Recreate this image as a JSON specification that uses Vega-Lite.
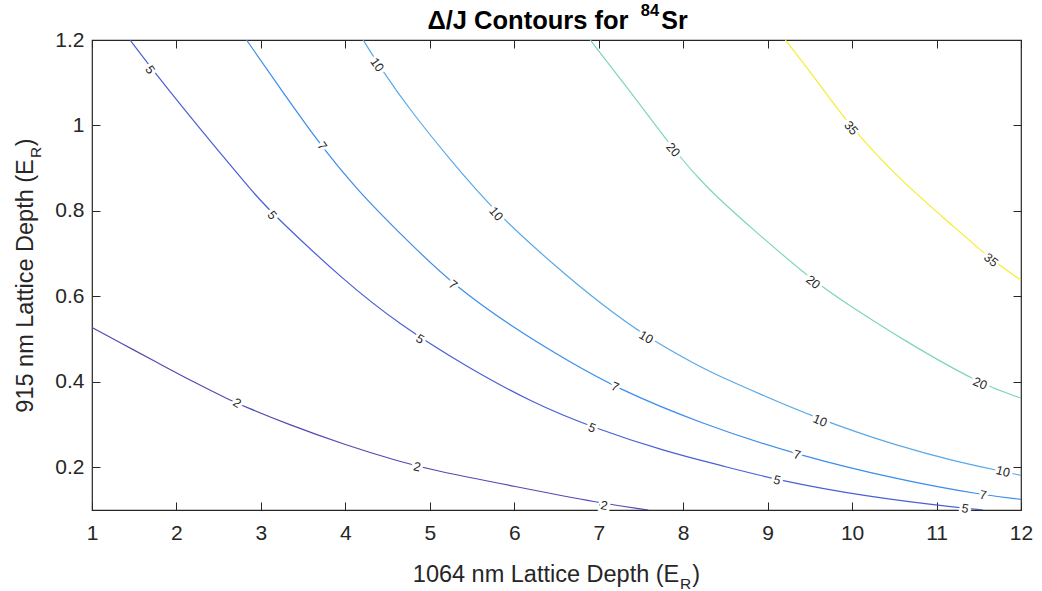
{
  "$schema": "https://vega.github.io/schema/vega-lite/v6.json",
  "width": 929,
  "height": 470,
  "autosize": "none",
  "padding": {"left": 92, "top": 40, "right": 21, "bottom": 81},
  "background": "white",
  "config": {
    "font": "Liberation Sans",
    "view": {"stroke": "#262626", "strokeWidth": 1.2},
    "axis": {"grid": false, "domain": false, "tickColor": "#262626", "tickWidth": 1, "labelColor": "#262626", "titleColor": "#262626", "labelFont": "Liberation Sans", "titleFont": "Liberation Sans"}
  },
  "datasets": {
    "lines": [
      {"level": 2, "x": 1.0, "y": 0.527}, {"level": 2, "x": 1.5, "y": 0.474}, {"level": 2, "x": 1.82, "y": 0.44}, {"level": 2, "x": 2.2, "y": 0.4}, {"level": 2, "x": 2.634, "y": 0.357}, {"level": 2, "x": 2.81, "y": 0.342}, {"level": 2, "x": 3.3, "y": 0.302}, {"level": 2, "x": 4.0, "y": 0.252}, {"level": 2, "x": 4.647, "y": 0.213}, {"level": 2, "x": 5.014, "y": 0.194}, {"level": 2, "x": 6.009, "y": 0.155}, {"level": 2, "x": 7.015, "y": 0.116}, {"level": 2, "x": 7.587, "y": 0.1},
      {"level": 5, "x": 1.45, "y": 1.2}, {"level": 5, "x": 1.7, "y": 1.135}, {"level": 5, "x": 2.16, "y": 1.021}, {"level": 5, "x": 2.555, "y": 0.927}, {"level": 5, "x": 2.95, "y": 0.833}, {"level": 5, "x": 3.2, "y": 0.782}, {"level": 5, "x": 3.976, "y": 0.638}, {"level": 5, "x": 4.647, "y": 0.533}, {"level": 5, "x": 5.437, "y": 0.435}, {"level": 5, "x": 6.226, "y": 0.35}, {"level": 5, "x": 6.9, "y": 0.295}, {"level": 5, "x": 7.805, "y": 0.236}, {"level": 5, "x": 8.436, "y": 0.205}, {"level": 5, "x": 9.107, "y": 0.17}, {"level": 5, "x": 10.17, "y": 0.131}, {"level": 5, "x": 11.32, "y": 0.104}, {"level": 5, "x": 11.55, "y": 0.1},
      {"level": 7, "x": 2.83, "y": 1.2}, {"level": 7, "x": 3.2, "y": 1.095}, {"level": 7, "x": 3.66, "y": 0.966}, {"level": 7, "x": 4.134, "y": 0.849}, {"level": 7, "x": 4.766, "y": 0.724}, {"level": 7, "x": 5.275, "y": 0.627}, {"level": 7, "x": 6.03, "y": 0.521}, {"level": 7, "x": 6.62, "y": 0.451}, {"level": 7, "x": 7.21, "y": 0.385}, {"level": 7, "x": 8.2, "y": 0.303}, {"level": 7, "x": 9.34, "y": 0.229}, {"level": 7, "x": 10.57, "y": 0.17}, {"level": 7, "x": 11.55, "y": 0.135}, {"level": 7, "x": 12.0, "y": 0.125},
      {"level": 10, "x": 4.21, "y": 1.2}, {"level": 10, "x": 4.45, "y": 1.125}, {"level": 10, "x": 4.766, "y": 1.036}, {"level": 10, "x": 5.24, "y": 0.92}, {"level": 10, "x": 5.784, "y": 0.795}, {"level": 10, "x": 6.5, "y": 0.668}, {"level": 10, "x": 7.015, "y": 0.584}, {"level": 10, "x": 7.56, "y": 0.505}, {"level": 10, "x": 8.2, "y": 0.435}, {"level": 10, "x": 8.436, "y": 0.412}, {"level": 10, "x": 9.62, "y": 0.31}, {"level": 10, "x": 10.57, "y": 0.248}, {"level": 10, "x": 11.2, "y": 0.215}, {"level": 10, "x": 11.79, "y": 0.19}, {"level": 10, "x": 12.0, "y": 0.181},
      {"level": 20, "x": 6.9, "y": 1.2}, {"level": 20, "x": 7.41, "y": 1.07}, {"level": 20, "x": 7.88, "y": 0.945}, {"level": 20, "x": 8.2, "y": 0.872}, {"level": 20, "x": 8.436, "y": 0.826}, {"level": 20, "x": 8.79, "y": 0.763}, {"level": 20, "x": 9.54, "y": 0.635}, {"level": 20, "x": 10.02, "y": 0.572}, {"level": 20, "x": 10.57, "y": 0.502}, {"level": 20, "x": 11.51, "y": 0.395}, {"level": 20, "x": 12.0, "y": 0.362},
      {"level": 35, "x": 9.21, "y": 1.2}, {"level": 35, "x": 9.58, "y": 1.106}, {"level": 35, "x": 9.988, "y": 0.994}, {"level": 35, "x": 10.57, "y": 0.872}, {"level": 35, "x": 11.16, "y": 0.771}, {"level": 35, "x": 11.65, "y": 0.685}, {"level": 35, "x": 12.0, "y": 0.638}
    ],
    "labels": [
      {"id": "5a", "txt": "5", "x": 1.687, "y": 1.13}, {"id": "5b", "txt": "5", "x": 3.131, "y": 0.79}, {"id": "5c", "txt": "5", "x": 4.884, "y": 0.5}, {"id": "5d", "txt": "5", "x": 6.921, "y": 0.292}, {"id": "5e", "txt": "5", "x": 9.111, "y": 0.17}, {"id": "5f", "txt": "5", "x": 11.337, "y": 0.103},
      {"id": "7a", "txt": "7", "x": 3.723, "y": 0.952}, {"id": "7b", "txt": "7", "x": 5.275, "y": 0.627}, {"id": "7c", "txt": "7", "x": 7.193, "y": 0.388}, {"id": "7d", "txt": "7", "x": 9.348, "y": 0.229}, {"id": "7e", "txt": "7", "x": 11.551, "y": 0.135},
      {"id": "10a", "txt": "10", "x": 4.375, "y": 1.142}, {"id": "10b", "txt": "10", "x": 5.784, "y": 0.793}, {"id": "10c", "txt": "10", "x": 7.56, "y": 0.504}, {"id": "10d", "txt": "10", "x": 9.62, "y": 0.309}, {"id": "10e", "txt": "10", "x": 11.787, "y": 0.19},
      {"id": "20a", "txt": "20", "x": 7.88, "y": 0.943}, {"id": "20b", "txt": "20", "x": 9.538, "y": 0.633}, {"id": "20c", "txt": "20", "x": 11.515, "y": 0.396},
      {"id": "35a", "txt": "35", "x": 9.988, "y": 0.994}, {"id": "35b", "txt": "35", "x": 11.645, "y": 0.685},
      {"id": "2a", "txt": "2", "x": 2.717, "y": 0.35}, {"id": "2b", "txt": "2", "x": 4.848, "y": 0.201}, {"id": "2c", "txt": "2", "x": 7.063, "y": 0.11}
    ]
  },
  "layer": [
    {
      "data": {"name": "lines"},
      "mark": {"type": "line", "strokeWidth": 1.2, "interpolate": "basis", "clip": true},
      "encoding": {
        "x": {"field": "x", "type": "quantitative", "scale": {"domain": [1, 12], "nice": false, "zero": false},
          "axis": {"orient": "bottom", "values": [1,2,3,4,5,6,7,8,9,10,11,12], "format": "d", "tickSize": -8, "labelFontSize": 21, "labelPadding": 20, "labelFlush": false,
            "title": "1064 nm Lattice Depth (E\u00a0\u00a0)", "titleFontSize": 23.5, "titleFontWeight": "normal", "titleX": 464, "titleY": 71, "titleBaseline": "alphabetic", "titleAlign": "center"}},
        "y": {"field": "y", "type": "quantitative", "scale": {"domain": [0.1, 1.2], "nice": false, "zero": false},
          "axis": {"orient": "left", "values": [0.2, 0.4, 0.6, 0.8, 1, 1.2], "format": "~g", "tickSize": -8, "labelFontSize": 21, "labelPadding": 16, "labelFlush": false,
            "title": "915 nm Lattice Depth (E\u00a0\u00a0)", "titleFontSize": 23.5, "titleFontWeight": "normal", "titleX": -60, "titleY": 235, "titleAngle": -90, "titleBaseline": "alphabetic", "titleAlign": "center"}},
        "color": {"field": "level", "type": "nominal", "scale": {"domain": [2, 5, 7, 10, 20, 35], "range": ["#5548b3", "#4a5fd6", "#3b8ded", "#5aa9e6", "#7ed6b9", "#f4ee2e"]}, "legend": null}
      }
    },
    {
      "data": {"name": "labels"},
      "mark": {"type": "point", "opacity": 0},
      "encoding": {
        "x": {"field": "x", "type": "quantitative",
          "axis": {"orient": "top", "values": [1,2,3,4,5,6,7,8,9,10,11,12], "labels": false, "tickSize": -8,
            "title": "Δ/J Contours for", "titleFontSize": 25.5, "titleFontWeight": "bold", "titleColor": "#000000", "titleX": 536, "titleY": -12, "titleBaseline": "alphabetic", "titleAlign": "right"}},
        "y": {"field": "y", "type": "quantitative",
          "axis": {"orient": "right", "values": [0.2, 0.4, 0.6, 0.8, 1, 1.2], "labels": false, "tickSize": -8, "title": null}}
      }
    },
    {
      "data": {"name": "labels"},
      "mark": {"type": "point", "opacity": 0},
      "encoding": {
        "x": {"field": "x", "type": "quantitative",
          "axis": {"orient": "top", "labels": false, "ticks": false, "title": "84", "titleFontSize": 16.5, "titleFontWeight": "bold", "titleColor": "#000000", "titleX": 557.5, "titleY": -25, "titleBaseline": "alphabetic", "titleAlign": "center"}},
        "y": {"field": "y", "type": "quantitative", "axis": null}
      }
    },
    {
      "data": {"name": "labels"},
      "mark": {"type": "point", "opacity": 0},
      "encoding": {
        "x": {"field": "x", "type": "quantitative",
          "axis": {"orient": "top", "labels": false, "ticks": false, "title": "Sr", "titleFontSize": 25, "titleFontWeight": "bold", "titleColor": "#000000", "titleX": 582, "titleY": -12, "titleBaseline": "alphabetic", "titleAlign": "center"}},
        "y": {"field": "y", "type": "quantitative", "axis": null}
      }
    },
    {
      "data": {"name": "labels"},
      "mark": {"type": "point", "opacity": 0},
      "encoding": {
        "x": {"field": "x", "type": "quantitative",
          "axis": {"orient": "bottom", "labels": false, "ticks": false, "title": "R", "titleFontSize": 15.5, "titleFontWeight": "normal", "titleX": 593, "titleY": 78, "titleBaseline": "alphabetic", "titleAlign": "center"}},
        "y": {"field": "y", "type": "quantitative",
          "axis": {"orient": "left", "labels": false, "ticks": false, "title": "R", "titleFontSize": 15.5, "titleFontWeight": "normal", "titleX": -52, "titleY": 112, "titleAngle": -90, "titleBaseline": "alphabetic", "titleAlign": "center"}}
      }
    },
    {
      "data": {"name": "labels"},
      "transform": [{"filter": {"field": "id", "oneOf": ["5a", "7a", "10a"]}}],
      "encoding": {"x": {"field": "x", "type": "quantitative", "axis": null}, "y": {"field": "y", "type": "quantitative", "axis": null}, "text": {"field": "txt"}},
      "layer": [
        {"mark": {"type": "text", "angle": 55, "fontSize": 12.5, "fill": "white", "stroke": "white", "strokeWidth": 6, "strokeJoin": "round"}},
        {"mark": {"type": "text", "angle": 55, "fontSize": 12.5, "fill": "#262626"}}
      ]
    },
    {
      "data": {"name": "labels"},
      "transform": [{"filter": {"field": "id", "oneOf": ["5b", "10b", "20a", "35a"]}}],
      "encoding": {"x": {"field": "x", "type": "quantitative", "axis": null}, "y": {"field": "y", "type": "quantitative", "axis": null}, "text": {"field": "txt"}},
      "layer": [
        {"mark": {"type": "text", "angle": 49, "fontSize": 12.5, "fill": "white", "stroke": "white", "strokeWidth": 6, "strokeJoin": "round"}},
        {"mark": {"type": "text", "angle": 49, "fontSize": 12.5, "fill": "#262626"}}
      ]
    },
    {
      "data": {"name": "labels"},
      "transform": [{"filter": {"field": "id", "oneOf": ["7b", "20b", "35b"]}}],
      "encoding": {"x": {"field": "x", "type": "quantitative", "axis": null}, "y": {"field": "y", "type": "quantitative", "axis": null}, "text": {"field": "txt"}},
      "layer": [
        {"mark": {"type": "text", "angle": 39, "fontSize": 12.5, "fill": "white", "stroke": "white", "strokeWidth": 6, "strokeJoin": "round"}},
        {"mark": {"type": "text", "angle": 39, "fontSize": 12.5, "fill": "#262626"}}
      ]
    },
    {
      "data": {"name": "labels"},
      "transform": [{"filter": {"field": "id", "oneOf": ["5c", "10c", "2a"]}}],
      "encoding": {"x": {"field": "x", "type": "quantitative", "axis": null}, "y": {"field": "y", "type": "quantitative", "axis": null}, "text": {"field": "txt"}},
      "layer": [
        {"mark": {"type": "text", "angle": 31, "fontSize": 12.5, "fill": "white", "stroke": "white", "strokeWidth": 6, "strokeJoin": "round"}},
        {"mark": {"type": "text", "angle": 31, "fontSize": 12.5, "fill": "#262626"}}
      ]
    },
    {
      "data": {"name": "labels"},
      "transform": [{"filter": {"field": "id", "oneOf": ["5d", "7c", "10d", "20c"]}}],
      "encoding": {"x": {"field": "x", "type": "quantitative", "axis": null}, "y": {"field": "y", "type": "quantitative", "axis": null}, "text": {"field": "txt"}},
      "layer": [
        {"mark": {"type": "text", "angle": 23, "fontSize": 12.5, "fill": "white", "stroke": "white", "strokeWidth": 6, "strokeJoin": "round"}},
        {"mark": {"type": "text", "angle": 23, "fontSize": 12.5, "fill": "#262626"}}
      ]
    },
    {
      "data": {"name": "labels"},
      "transform": [{"filter": {"field": "id", "oneOf": ["5e", "7d", "10e", "2b"]}}],
      "encoding": {"x": {"field": "x", "type": "quantitative", "axis": null}, "y": {"field": "y", "type": "quantitative", "axis": null}, "text": {"field": "txt"}},
      "layer": [
        {"mark": {"type": "text", "angle": 14, "fontSize": 12.5, "fill": "white", "stroke": "white", "strokeWidth": 6, "strokeJoin": "round"}},
        {"mark": {"type": "text", "angle": 14, "fontSize": 12.5, "fill": "#262626"}}
      ]
    },
    {
      "data": {"name": "labels"},
      "transform": [{"filter": {"field": "id", "oneOf": ["5f", "7e", "2c"]}}],
      "encoding": {"x": {"field": "x", "type": "quantitative", "axis": null}, "y": {"field": "y", "type": "quantitative", "axis": null}, "text": {"field": "txt"}},
      "layer": [
        {"mark": {"type": "text", "angle": 10, "fontSize": 12.5, "fill": "white", "stroke": "white", "strokeWidth": 6, "strokeJoin": "round"}},
        {"mark": {"type": "text", "angle": 10, "fontSize": 12.5, "fill": "#262626"}}
      ]
    }
  ],
  "resolve": {"scale": {"x": "shared", "y": "shared", "color": "independent"}, "axis": {"x": "independent", "y": "independent"}}
}
